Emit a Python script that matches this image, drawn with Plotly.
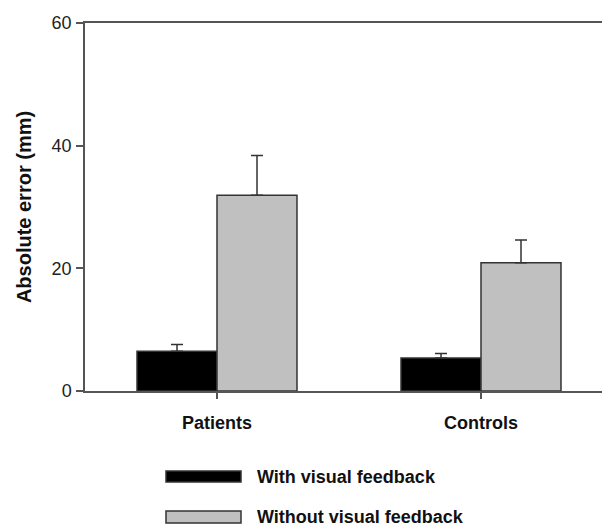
import plotly.graph_objects as go

# Data
groups = ["Patients", "Controls"]
series_names = ["With visual feedback", "Without visual feedback"]
with_feedback = [6.5, 5.4]
with_feedback_err = [1.1, 0.7]
without_feedback = [31.9, 20.9]
without_feedback_err = [6.5, 3.7]
y_ticks = [0, 20, 40, 60]

FONT = "Liberation Sans, Arial, sans-serif"
EDGE = "#333333"
colors = ["#000000", "#c0c0c0"]

fig = go.Figure()
for name, vals, errs, col in [
    (series_names[0], with_feedback, with_feedback_err, colors[0]),
    (series_names[1], without_feedback, without_feedback_err, colors[1]),
]:
    fig.add_trace(go.Bar(
        x=groups, y=vals, name=name,
        marker=dict(color=col, line=dict(color=EDGE, width=1.5)),
        error_y=dict(type="data", array=errs, arrayminus=[0] * len(errs),
                     symmetric=False, color=EDGE, thickness=1.5, width=6),
        showlegend=False,
    ))

# Plot area geometry in pixels (used to place the hand-drawn legend)
W, H = 602, 526
L, R, T, B = 85, 0, 23, 135
pw, ph = W - L - R, H - T - B

def px_x(x):
    return (x - L) / pw

def px_y(y):
    return (H - B - y) / ph

# Legend: wide swatches with bold labels under the chart
legend_rows = [(471, 482, 476.5), (511, 523, 517)]
for (y0, y1, yc), name, col in zip(legend_rows, series_names, colors):
    fig.add_shape(type="rect", xref="paper", yref="paper",
                  x0=px_x(166), x1=px_x(241), y0=px_y(y1), y1=px_y(y0),
                  fillcolor=col, line=dict(color=EDGE, width=1.5))
    fig.add_annotation(xref="paper", yref="paper", x=px_x(255), y=px_y(yc),
                       xanchor="left", yanchor="middle", showarrow=False,
                       text=f"<b>{name}</b>",
                       font=dict(family=FONT, size=18, color="#111111"))

fig.update_layout(
    width=W, height=H,
    margin=dict(l=L, r=R, t=T, b=B, pad=0),
    paper_bgcolor="white", plot_bgcolor="white",
    barmode="group", bargap=0.394, bargroupgap=0,
    font=dict(family=FONT, color="#222222"),
    xaxis=dict(
        range=[-0.5, 1 + (W - 481) / 264],
        showline=True, linecolor="#555555", linewidth=1.5, mirror=True,
        ticks="outside", ticklen=6, tickcolor="#555555", tickwidth=1.5,
        tickvals=groups, ticktext=[f"<b>{g}</b>" for g in groups],
        tickfont=dict(family=FONT, size=18, color="#111111"),
        ticklabelstandoff=9,
        showgrid=False, zeroline=False, fixedrange=True,
    ),
    yaxis=dict(
        range=[0, 60], tickvals=y_ticks,
        showline=True, linecolor="#555555", linewidth=1.5,
        ticks="outside", ticklen=7, tickcolor="#555555", tickwidth=1.5,
        tickfont=dict(family=FONT, size=18, color="#222222"),
        ticklabelstandoff=1,
        title=dict(text="<b>Absolute error (mm)</b>", standoff=15,
                   font=dict(family=FONT, size=20, color="#111111")),
        showgrid=False, zeroline=False, fixedrange=True,
    ),
)

fig.write_html("out.html", config={"displayModeBar": False})
